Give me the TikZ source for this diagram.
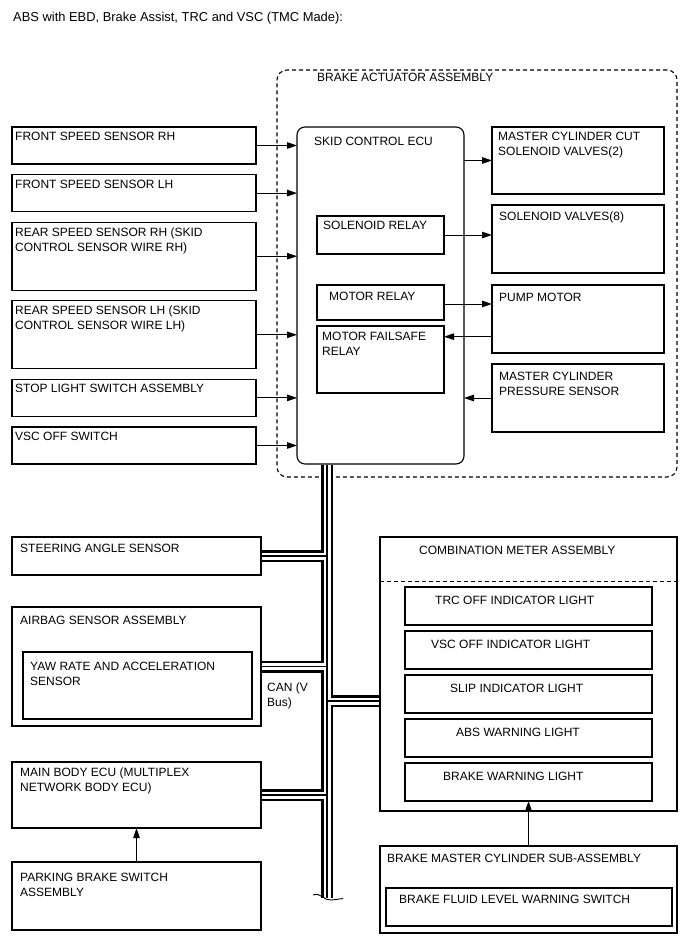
\documentclass[tikz,border=0pt]{standalone}
\usepackage{fontspec}
\setmainfont{Liberation Sans}
\usetikzlibrary{positioning,arrows.meta,calc}

\begin{document}
\begin{tikzpicture}[x=1pt, y=-1pt, node distance=10.6pt,
    every node/.style={font=\fontsize{12}{15}\selectfont},
    box/.style 2 args={draw, line width=1.1pt, inner sep=0pt, outer sep=0pt, anchor=north west, minimum width=#1, minimum height=#2},
    txt/.style={anchor=north west, inner sep=0pt, align=left},
    arr/.style={-{Triangle[length=10pt,width=6.5pt]}, line width=0.9pt},
    canbus/.style={line width=1.1pt, preaction={draw, line width=12pt}, preaction={draw, white, line width=7pt}}]
    \useasboundingbox (0,0) rectangle (688,949);
    \node[txt, font=\fontsize{12.9}{15}\selectfont] (title) at (13,12) {ABS with EBD, Brake Assist, TRC and VSC (TMC Made):};

    % brake actuator
    \node[box={400}{407}, dash pattern=on 4pt off 3pt, rounded corners=10pt, label={[txt,xshift=40pt,yshift=-3pt]north west:BRAKE ACTUATOR ASSEMBLY}] (act) at (277,70) {};
    \node[box={167}{337}, rounded corners=8pt, label={[txt,xshift=17pt,yshift=-10pt]north west:SKID CONTROL ECU}] (ecu) at (297,127) {};
    \node[box={127}{38}, label={[txt,xshift=6pt,yshift=-5pt]north west:SOLENOID RELAY}] (solrly) at (317,216) {};
    \node[box={127}{35}, label={[txt,xshift=12pt,yshift=-7pt]north west:MOTOR RELAY}] (motrly) at (317,285) {};
    \node[box={127}{67}, label={[txt,xshift=5pt,yshift=-6pt]north west:{MOTOR FAILSAFE\\RELAY}}] (fsrly) at (317,326) {};
    \node[box={172}{67}, label={[txt,xshift=6pt,yshift=-5pt]north west:{MASTER CYLINDER CUT\\SOLENOID VALVES(2)}}] (mccut) at (492,127) {};
    \node[box={172}{68}, label={[txt,xshift=7pt,yshift=-7pt]north west:SOLENOID VALVES(8)}] (solv) at (492,205) {};
    \node[box={172}{68}, label={[txt,xshift=7pt,yshift=-8pt]north west:PUMP MOTOR}] (pump) at (492,285) {};
    \node[box={172}{68}, label={[txt,xshift=7pt,yshift=-8pt]north west:{MASTER CYLINDER\\PRESSURE SENSOR}}] (mcps) at (492,364) {};

    % sensors and switches
    \node[box={244}{37}, label={[txt,xshift=3pt,yshift=-5pt]north west:FRONT SPEED SENSOR RH}] (fsrh) at (12,127) {};
    \node[box={244}{37}, below=of fsrh, label={[txt,xshift=3pt,yshift=-5pt]north west:FRONT SPEED SENSOR LH}] (fslh) {};
    \node[box={244}{68}, below=of fslh, label={[txt,xshift=3pt,yshift=-5pt]north west:{REAR SPEED SENSOR RH (SKID\\CONTROL SENSOR WIRE RH)}}] (rsrh) {};
    \node[box={244}{68}, below=of rsrh, label={[txt,xshift=3pt,yshift=-5pt]north west:{REAR SPEED SENSOR LH (SKID\\CONTROL SENSOR WIRE LH)}}] (rslh) {};
    \node[box={244}{37}, below=of rslh, label={[txt,xshift=3pt,yshift=-5pt]north west:STOP LIGHT SWITCH ASSEMBLY}] (stop) {};
    \node[box={244}{37}, below=of stop, label={[txt,xshift=3pt,yshift=-5pt]north west:VSC OFF SWITCH}] (vscsw) {};

    \draw[arr] (fsrh.east) -- (fsrh.east -| ecu.west);
    \draw[arr] (fslh.east) -- (fslh.east -| ecu.west);
    \draw[arr] (rsrh.east) -- (rsrh.east -| ecu.west);
    \draw[arr] (rslh.east) -- (rslh.east -| ecu.west);
    \draw[arr] (stop.east) -- (stop.east -| ecu.west);
    \draw[arr] (vscsw.east) -- (vscsw.east -| ecu.west);
    \draw[arr] (mccut.west -| ecu.east) -- (mccut.west);
    \draw[arr] (solrly.east) -- (solrly.east -| solv.west);
    \draw[arr] (motrly.east) ++(0,1.5) coordinate (m1) (m1) -- (m1 -| pump.west);
    \draw[arr] ($(pump.south west)!0.24!(pump.north west)$) coordinate (p1) (p1) -- (p1 -| fsrly.east);
    \draw[arr] (mcps.west) -- (mcps.west -| ecu.east);

    % lower part
    \node[box={249}{38}, label={[txt,xshift=8pt,yshift=-7pt]north west:STEERING ANGLE SENSOR}] (steer) at (12,537) {};
    \node[box={249}{119}, label={[txt,xshift=8pt,yshift=-9pt]north west:AIRBAG SENSOR ASSEMBLY}] (airbag) at (12,607) {};
    \node[box={229}{67}, label={[txt,xshift=7pt,yshift=-10pt]north west:{YAW RATE AND ACCELERATION\\SENSOR}}] (yaw) at (23,652) {};
    \node[box={249}{66}, label={[txt,xshift=8pt,yshift=-6pt]north west:{MAIN BODY ECU (MULTIPLEX\\NETWORK BODY ECU)}}] (mainecu) at (12,762) {};
    \node[box={249}{68}, label={[txt,xshift=8pt,yshift=-11pt]north west:{PARKING BRAKE SWITCH\\ASSEMBLY}}] (pkb) at (12,862) {};
    \draw[arr] (pkb.north) -- (mainecu.south);

    \node[box={297}{274}, label={[txt,xshift=39pt,yshift=-9pt]north west:COMBINATION METER ASSEMBLY}] (comb) at (380,537) {};
    \draw[line width=1pt, dash pattern=on 4pt off 3pt] ($(comb.north west)+(0,44)$) -- ($(comb.north east)+(0,44)$);
    \node[box={247}{38}, label={[txt,xshift=30pt,yshift=-9pt]north west:TRC OFF INDICATOR LIGHT}] (trc) at (405,587) {};
    \node[box={247}{38}, below=6pt of trc, label={[txt,xshift=26pt,yshift=-9pt]north west:VSC OFF INDICATOR LIGHT}] (vscl) {};
    \node[box={247}{38}, below=6pt of vscl, label={[txt,xshift=45pt,yshift=-9pt]north west:SLIP INDICATOR LIGHT}] (slip) {};
    \node[box={247}{38}, below=6pt of slip, label={[txt,xshift=51pt,yshift=-9pt]north west:ABS WARNING LIGHT}] (abs) {};
    \node[box={247}{38}, below=6pt of abs, label={[txt,xshift=38pt,yshift=-9pt]north west:BRAKE WARNING LIGHT}] (brkl) {};

    \node[box={297}{87}, label={[txt,xshift=7pt,yshift=-8pt]north west:BRAKE MASTER CYLINDER SUB-ASSEMBLY}] (bmc) at (380,846) {};
    \node[box={286}{38}, label={[txt,xshift=13pt,yshift=-7pt]north west:BRAKE FLUID LEVEL WARNING SWITCH}] (bfl) at (386,888) {};
    \draw[arr] (bmc.north) -- (brkl.south);

    % CAN bus
    \coordinate (busx) at (327,0);
    \coordinate (busend) at (327,898);
    \coordinate (cmj) at (327,701);
    \draw[canbus] ($(ecu.south -| busx)+(0,0.6)$) -- (busend)
        ($(steer.east)+(0.6,0)$) -- (steer.east -| busx)
        ($(airbag.east)+(0.6,0)$) -- (airbag.east -| busx)
        ($(mainecu.east)+(0.6,0)$) -- (mainecu.east -| busx)
        (cmj) -- ($(cmj -| comb.west)+(-0.6,0)$);
    \draw[line width=0.9pt] ($(busend)+(-14,-3)$) .. controls ($(busend)+(-6,-6)$) and ($(busend)+(-3,3)$) .. ($(busend)+(4,2)$) .. controls ($(busend)+(9,1.5)$) .. ($(busend)+(16,0.5)$);
    \node[txt] (canlbl) at (267,683) {CAN (V\\Bus)};
\end{tikzpicture}
\end{document}
